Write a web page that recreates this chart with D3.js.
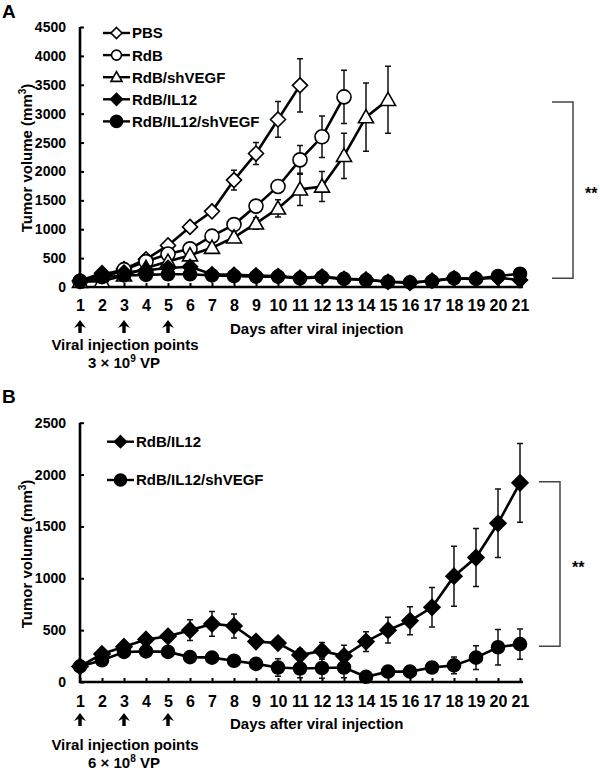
<!DOCTYPE html>
<html>
<head>
<meta charset="utf-8">
<script src="https://cdn.jsdelivr.net/npm/d3@7/dist/d3.min.js"></script>
<style>
    body { margin: 0; background: #fff; }
    svg text {
        font-family: Arial, "Liberation Sans", sans-serif;
        font-weight: bold;
        fill: #000;
    }
</style>
</head>
<body>
<script>
// Days on the x axis and the injection days marked by arrows
var days = [1, 2, 3, 4, 5, 6, 7, 8, 9, 10, 11, 12, 13, 14, 15, 16, 17, 18,
    19, 20, 21];
var injectionDays = [1, 3, 5];

// Tick values of the two y axes
var yTicksA = [0, 500, 1000, 1500, 2000, 2500, 3000, 3500, 4000, 4500];
var yTicksB = [0, 500, 1000, 1500, 2000, 2500];

// Legend names
var namesA = ["PBS", "RdB", "RdB/shVEGF", "RdB/IL12", "RdB/IL12/shVEGF"];
var namesB = ["RdB/IL12", "RdB/IL12/shVEGF"];

// Panel A: tumor volume (mm3), mean and error, from day 1 on
var pbsA = [100, 200, 310, 480, 720, 1040, 1310, 1850, 2310, 2900, 3490];
var pbsErrA = [20, 30, 40, 50, 60, 60, 80, 170, 190, 310, 460];
var rdbA = [100, 150, 300, 440, 570, 660, 880, 1080, 1400, 1740, 2200, 2600,
    3290];
var rdbErrA = [20, 30, 40, 40, 50, 60, 80, 90, 110, 100, 250, 360, 460];
var rdbShA = [90, 100, 200, 330, 440, 550, 680, 860, 1100, 1360, 1690, 1740,
    2270, 2940, 3240];
var rdbShErrA = [20, 30, 40, 50, 60, 60, 70, 70, 100, 150, 280, 260, 390,
    590, 580];
var il12A = [110, 240, 250, 290, 330, 350, 220, 210, 200, 190, 160, 180, 140,
    130, 90, 70, 110, 150, 140, 160, 120];
var il12ErrA = [20, 40, 50, 60, 60, 70, 50, 40, 40, 40, 40, 40, 30, 30, 30,
    30, 30, 30, 30, 40, 40];
var il12ShA = [100, 170, 200, 210, 220, 220, 200, 190, 180, 180, 150, 170,
    140, 120, 90, 80, 100, 150, 140, 190, 230];
var il12ShErrA = [20, 30, 40, 40, 40, 40, 40, 30, 30, 30, 30, 30, 30, 30, 30,
    30, 30, 30, 30, 40, 40];

// Panel B
var il12B = [150, 270, 340, 410, 440, 500, 560, 540, 390, 375, 260, 300, 250,
    390, 500, 590, 720, 1020, 1200, 1530, 1920];
var il12ErrB = [20, 30, 30, 40, 50, 100, 120, 115, 40, 40, 60, 80, 105, 95,
    125, 135, 190, 290, 280, 330, 380];
var il12ShB = [150, 210, 290, 295, 290, 240, 235, 205, 175, 140, 130, 135,
    140, 50, 100, 100, 140, 160, 235, 335, 365];
var il12ShErrB = [20, 20, 20, 20, 20, 30, 30, 30, 40, 85, 90, 100, 100, 30,
    30, 40, 50, 80, 115, 170, 145];

// Values the significance bracket spans
var bracketA = [150, 3200];
var bracketB = [345, 1930];

var svg = d3.select("body").append("svg")
    .attr("width", 600)
    .attr("height", 777);

var xScale = d3.scaleLinear().domain([1, 21]).range([80, 520]);

// Marker paths, centred on 0,0
function markerPath(shape, r) {
    if (shape === "diamond") {
        return "M0," + (-r) + "L" + r + ",0L0," + r + "L" + (-r) + ",0Z";
    }
    if (shape === "triangle") {
        return "M0," + (-r) + "L" + r + "," + (r * 0.75) + "L" + (-r) + "," +
            (r * 0.75) + "Z";
    }
    return d3.arc()({innerRadius: 0, outerRadius: r, startAngle: 0,
        endAngle: 2 * Math.PI});
}

function drawMarker(g, s, x, y, big) {
    var r = big ? s.r : s.lr;
    g.append("path")
        .attr("d", markerPath(s.shape, r))
        .attr("transform", "translate(" + x + "," + y + ")")
        .attr("fill", s.fill)
        .attr("stroke", "#000")
        .attr("stroke-width", 1.6);
}

function drawPanel(p) {
    var g = svg.append("g");
    var yScale = d3.scaleLinear().domain(p.yDomain).range(p.yRange);

    // panel letter
    g.append("text")
        .attr("x", 2).attr("y", p.letterY)
        .attr("font-size", "19px")
        .text(p.letter);

    // y axis, ticks pointing inside
    var yAxis = d3.axisLeft(yScale)
        .tickValues(p.yTicks)
        .tickFormat(d3.format("d"))
        .tickSize(-4)
        .tickSizeOuter(0)
        .tickPadding(14);
    var ya = g.append("g")
        .attr("transform", "translate(" + xScale(1) + ",0)")
        .call(yAxis);
    ya.select(".domain").remove();
    ya.selectAll("line").attr("stroke-width", 2);
    ya.selectAll("text")
        .attr("font-size", "14px")
        .attr("font-family", null);

    // x axis
    var xAxis = d3.axisBottom(xScale)
        .tickValues(days)
        .tickFormat(d3.format("d"))
        .tickSize(-4)
        .tickSizeOuter(0)
        .tickPadding(p.xPad);
    var xa = g.append("g")
        .attr("transform", "translate(0," + yScale(0) + ")")
        .call(xAxis);
    xa.select(".domain").remove();
    xa.selectAll("line").attr("stroke-width", 2);
    xa.selectAll("text")
        .attr("font-size", "16px")
        .attr("font-family", null);

    // axis lines
    g.append("path")
        .attr("d", "M" + xScale(1) + "," + yScale(p.yDomain[1]) +
            "V" + yScale(0) + "H" + (xScale(21) + 3))
        .attr("fill", "none")
        .attr("stroke", "#000")
        .attr("stroke-width", 2.6);

    // y axis title
    var yt = g.append("text")
        .attr("transform", "translate(32," + p.titleY + ") rotate(-90)")
        .attr("text-anchor", "middle")
        .attr("font-size", "15px");
    yt.append("tspan").text("Tumor volume (mm");
    yt.append("tspan").attr("dy", -6).attr("font-size", "10px").text("3");
    yt.append("tspan").attr("dy", 6).text(")");

    // series: error bars, line, markers
    var line = d3.line()
        .x(function(d, i) { return xScale(days[i]); })
        .y(function(d) { return yScale(d); });

    p.series.forEach(function(s) {
        var sg = g.append("g");
        s.values.forEach(function(v, i) {
            var x = xScale(days[i]);
            var y0 = yScale(v - s.err[i]), y1 = yScale(v + s.err[i]);
            sg.append("path")
                .attr("d", "M" + x + "," + y0 + "V" + y1 +
                    "M" + (x - 3) + "," + y0 + "h6" +
                    "M" + (x - 3) + "," + y1 + "h6")
                .attr("stroke", "#111")
                .attr("stroke-width", 1.5)
                .attr("fill", "none");
        });
        sg.append("path")
            .attr("d", line(s.values))
            .attr("fill", "none")
            .attr("stroke", "#000")
            .attr("stroke-width", 2.6);
        s.values.forEach(function(v, i) {
            drawMarker(sg, s, xScale(days[i]), yScale(v), true);
        });
    });

    // legend
    p.series.forEach(function(s, i) {
        var ly = p.legY + i * p.legStep;
        g.append("line")
            .attr("x1", p.legX).attr("x2", p.legX + 27)
            .attr("y1", ly).attr("y2", ly)
            .attr("stroke", "#000")
            .attr("stroke-width", 2.4);
        drawMarker(g, s, p.legX + 13.5, ly, false);
        g.append("text")
            .attr("x", p.legX + 29)
            .attr("y", ly + 5.4)
            .attr("font-size", "15px")
            .text(s.name);
    });

    // significance bracket
    var bTop = yScale(p.bracket[1]), bBot = yScale(p.bracket[0]);
    g.append("path")
        .attr("d", "M" + p.bracketX + "," + bTop + "H" + (p.bracketX + 21) +
            "V" + bBot + "H" + p.bracketX)
        .attr("fill", "none")
        .attr("stroke", "#444")
        .attr("stroke-width", 1.5);
    g.append("text")
        .attr("x", p.bracketX + 33)
        .attr("y", (bTop + bBot) / 2 + 9)
        .attr("font-size", "16px")
        .attr("fill", "#222")
        .text("**");

    // injection arrows (filled head, thick shaft)
    var base = yScale(0);
    injectionDays.forEach(function(d) {
        var x = xScale(d), t = base + p.arrowTop;
        g.append("path")
            .attr("d", "M" + x + "," + t +
                "L" + (x + 6) + "," + (t + 8) +
                "L" + (x + 1.7) + "," + (t + 6) +
                "V" + (t + 13) + "H" + (x - 1.7) +
                "V" + (t + 6) +
                "L" + (x - 6) + "," + (t + 8) + "Z")
            .attr("fill", "#000");
    });

    g.append("text")
        .attr("x", 230)
        .attr("y", base + p.daysY)
        .attr("font-size", "15px")
        .text("Days after viral injection");

    g.append("text")
        .attr("x", 125)
        .attr("y", base + p.viralY)
        .attr("text-anchor", "middle")
        .attr("font-size", "15px")
        .text("Viral injection points");

    var vp = g.append("text")
        .attr("x", 124)
        .attr("y", base + p.viralY + 18)
        .attr("text-anchor", "middle")
        .attr("font-size", "15px");
    vp.append("tspan").text(p.dose[0] + " \u00d7 10");
    vp.append("tspan").attr("dy", -6).attr("font-size", "10px")
        .text(p.dose[1]);
    vp.append("tspan").attr("dy", 6).text(" VP");
}

drawPanel({
    letter: "A", letterY: 18,
    yDomain: [0, 4500], yRange: [287, 27], yTicks: yTicksA,
    titleY: 158, xPad: 13,
    legX: 103, legY: 33, legStep: 22.1,
    bracket: bracketA, bracketX: 552,
    arrowTop: 33, daysY: 47, viralY: 63,
    dose: ["3", "9"],
    series: [
        {name: namesA[0], values: pbsA, err: pbsErrA, shape: "diamond",
            fill: "#fff", r: 7.5, lr: 5.5},
        {name: namesA[1], values: rdbA, err: rdbErrA, shape: "circle",
            fill: "#fff", r: 7, lr: 5},
        {name: namesA[2], values: rdbShA, err: rdbShErrA, shape: "triangle",
            fill: "#fff", r: 7.5, lr: 5.5},
        {name: namesA[3], values: il12A, err: il12ErrA, shape: "diamond",
            fill: "#000", r: 7.5, lr: 6},
        {name: namesA[4], values: il12ShA, err: il12ShErrA, shape: "circle",
            fill: "#000", r: 6.5, lr: 6}
    ]
});

drawPanel({
    letter: "B", letterY: 403,
    yDomain: [0, 2500], yRange: [682, 422.7], yTicks: yTicksB,
    titleY: 554, xPad: 14,
    legX: 107, legY: 441.7, legStep: 38.3,
    bracket: bracketB, bracketX: 539,
    arrowTop: 31, daysY: 47, viralY: 68,
    dose: ["6", "8"],
    series: [
        {name: namesB[0], values: il12B, err: il12ErrB, shape: "diamond",
            fill: "#000", r: 8, lr: 6},
        {name: namesB[1], values: il12ShB, err: il12ShErrB, shape: "circle",
            fill: "#000", r: 6.5, lr: 6}
    ]
});
</script>
</body>
</html>
